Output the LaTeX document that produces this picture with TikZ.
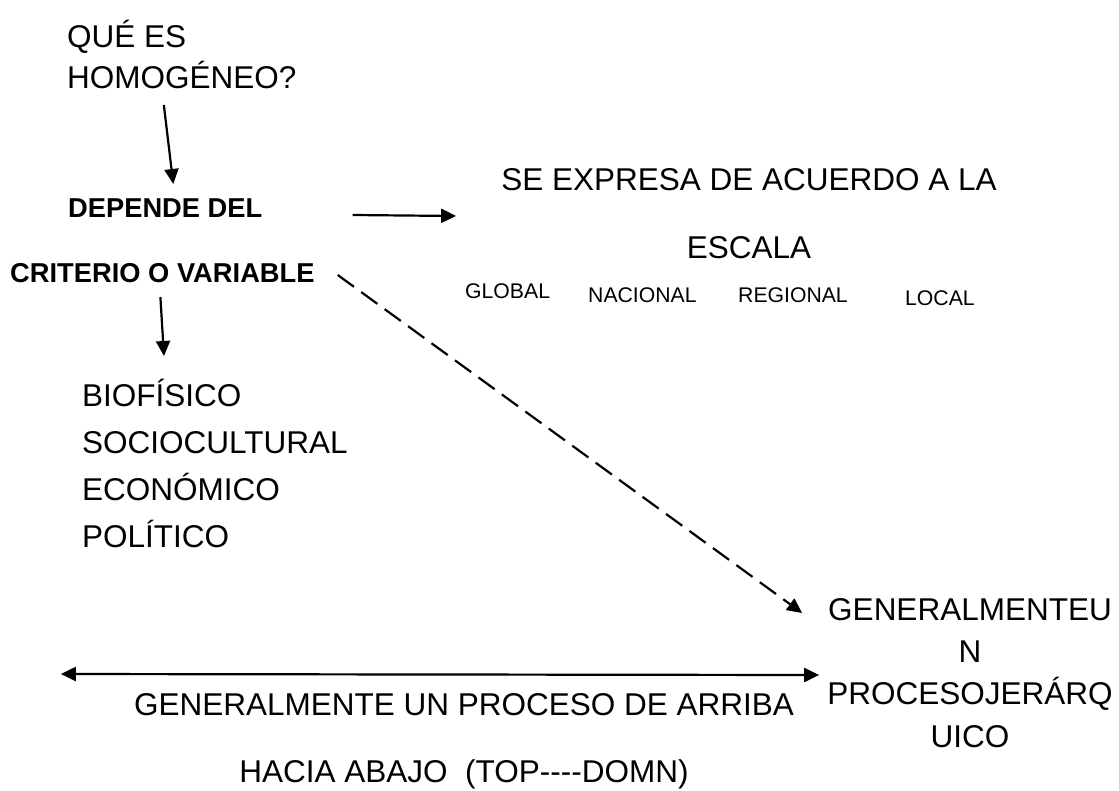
\documentclass[tikz,border=0pt]{standalone}
\usepackage{fontspec}
\setmainfont{Liberation Sans}
\usetikzlibrary{arrows.meta}

\tikzset{
  big/.style={font=\fontsize{31.5}{43}\selectfont},
  bold/.style={font=\fontsize{27.3}{33}\selectfont\bfseries},
  small/.style={font=\fontsize{21.2}{26}\selectfont},
  arr/.style={-{Triangle[length=15pt,width=14pt]}, line width=2.2pt},
  darr/.style={{Triangle[length=15pt,width=14pt]}-{Triangle[length=15pt,width=14pt]}, line width=2.2pt}
}

\begin{document}
\begin{tikzpicture}[x=1pt,y=-1pt]
    \useasboundingbox (0,0) rectangle (1119,790);

    \begin{scope}[every node/.style={inner sep=0pt}]
      \node[big,anchor=base west] (que) at (67,47) {QUÉ ES};
      \node[big,anchor=base west] (homog) at (67,88) {HOMOGÉNEO?};

      \node[bold,anchor=base west] (dep) at (68,217) {DEPENDE DEL};
      \node[bold,anchor=base west] (crit) at (10,282) {CRITERIO O VARIABLE};

      % multi-line nodes: base = last line
      \node[big,font=\fontsize{31.5}{68}\selectfont,align=center,anchor=base] (expr) at (749,258)
           {SE EXPRESA DE ACUERDO A LA\\ESCALA};
      \node[small,anchor=base west] (glob) at (465,298) {GLOBAL};
      \node[small,anchor=base west] (nac) at (588,302) {NACIONAL};
      \node[small,anchor=base west] (reg) at (738,302) {REGIONAL};
      \node[small,anchor=base west] (loc) at (905,305) {LOCAL};

      \node[big,font=\fontsize{31.5}{47}\selectfont,align=left,anchor=base west] (vars) at (82,547)
           {BIOFÍSICO\\SOCIOCULTURAL\\ECONÓMICO\\POLÍTICO};

      \node[big,font=\fontsize{31.5}{42.3}\selectfont,align=center,anchor=base] (gen) at (970,747)
           {GENERALMENTEU\\N\\PROCESOJERÁRQ\\UICO};

      \node[big,font=\fontsize{31.5}{67}\selectfont,align=center,anchor=base] (proc) at (464,782)
           {GENERALMENTE UN PROCESO DE ARRIBA\\HACIA ABAJO\ \ (TOP-{}-{}-{}-DOMN)};
    \end{scope}

    % arrows
    \draw[arr] ([shift={(-18,17)}]homog.base) -- ([shift={(8,-33)}]dep.base);
    \draw[arr] ([shift={(90,-2)}]dep.base east) -- ([shift={(-45,-42)}]expr.base west);
    \draw[arr] ([shift={(-2,15)}]crit.base) -- ([shift={(82,-191)}]vars.base west);
    \draw[arr,dash pattern=on 20pt off 9pt] ([shift={(23,-7)}]crit.base east) -- ([shift={(-25,-134)}]gen.base west);
    \draw[darr] ([shift={(-73,-108)}]proc.base west) -- ([shift={(25,-107)}]proc.base east);
\end{tikzpicture}
\end{document}
